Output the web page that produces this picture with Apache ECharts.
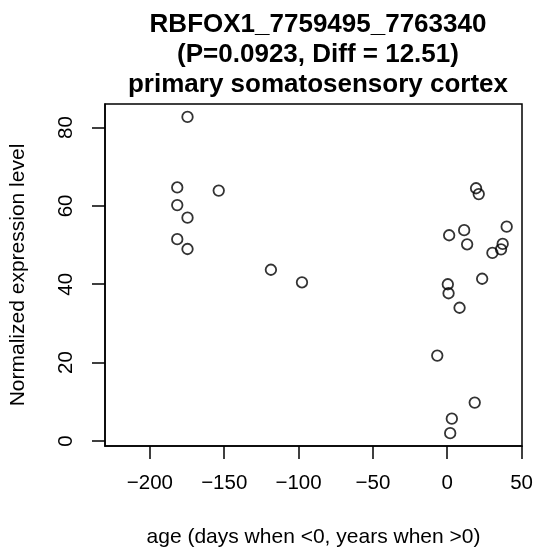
<!DOCTYPE html>
<html>
<head>
<meta charset="utf-8">
<script src="https://cdn.jsdelivr.net/npm/echarts@6/dist/echarts.min.js"></script>
<style>html,body{margin:0;padding:0;background:#fff}#c{width:536px;height:553px}</style>
</head>
<body>
<div id="c"></div>
<script>
var ageValues = [-174.7, -181.6, -153.7, -181.6, -174.7, -181.6, -174.7, -118.6, -97.7,
  19.4, 21.2, 40.0, 1.3, 11.4, 13.4, 37.3, 36.2, 30.4, 23.5, 0.4, 0.9, 8.3, -6.7, 18.5, 3.1, 2.0];
var exprValues = [82.7, 64.7, 63.9, 60.2, 57.0, 51.5, 49.0, 43.7, 40.5,
  64.5, 63.0, 54.7, 52.5, 53.8, 50.2, 50.3, 48.9, 48.0, 41.4, 40.0, 37.7, 34.0, 21.8, 9.8, 5.7, 2.0];
var xTicks = [-200, -150, -100, -50, 0, 50];
var yTicks = [0, 20, 40, 60, 80];
var titleLines = ['RBFOX1_7759495_7763340', '(P=0.0923, Diff = 12.51)', 'primary somatosensory cortex'];
var xTitle = 'age (days when <0, years when >0)';
var yTitle = 'Normalized expression level';

var pts = ageValues.map(function (x, i) { return [x, exprValues[i]]; });
var fmt = function (v) { return String(v).replace('-', '\u2212'); };
var font = 'Liberation Sans, Arial, sans-serif';

var chart = echarts.init(document.getElementById('c'), null, {renderer: 'canvas'});
chart.setOption({
  animation: false,
  backgroundColor: '#fff',
  title: {
    text: titleLines.join('\n'),
    left: 313, top: 5, textAlign: 'center',
    textStyle: {fontFamily: font, fontSize: 26, fontWeight: 'bold', color: '#000', lineHeight: 30}
  },
  grid: {left: 103.5, right: 14, top: 104, bottom: 107, show: true, borderColor: '#000', borderWidth: 1.5, backgroundColor: 'transparent'},
  xAxis: {
    type: 'value', min: -230.2, max: 50.3,
    name: xTitle, nameLocation: 'middle', nameGap: 81,
    nameTextStyle: {fontFamily: font, fontSize: 21, color: '#000'},
    axisLine: {show: true, onZero: false, lineStyle: {color: '#000', width: 1.5}},
    axisTick: {show: true, inside: false, length: 13, lineStyle: {color: '#000', width: 1.5}, customValues: xTicks},
    axisLabel: {customValues: xTicks, formatter: fmt, fontFamily: font, fontSize: 20.5, color: '#000', margin: 27},
    splitLine: {show: false}
  },
  yAxis: {
    type: 'value', min: -1.28, max: 86,
    name: yTitle, nameLocation: 'middle', nameGap: 76, nameRotate: 90,
    nameTextStyle: {fontFamily: font, fontSize: 21, color: '#000'},
    axisLine: {show: true, onZero: false, lineStyle: {color: '#000', width: 1.5}},
    axisTick: {show: true, inside: false, length: 13, lineStyle: {color: '#000', width: 1.5}, customValues: yTicks},
    axisLabel: {customValues: yTicks, rotate: 90, fontFamily: font, fontSize: 20.5, color: '#000', margin: 28},
    splitLine: {show: false}
  },
  series: [{
    type: 'scatter',
    data: pts,
    symbol: 'circle',
    symbolSize: 10.5,
    itemStyle: {color: 'rgba(0,0,0,0)', borderColor: '#000', borderWidth: 1.8}
  }]
});
</script>
</body>
</html>
